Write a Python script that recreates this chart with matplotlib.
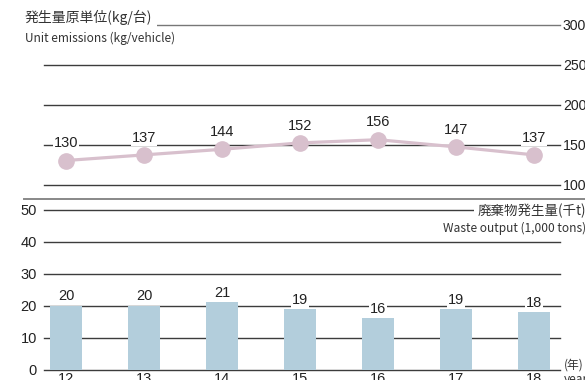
import matplotlib
matplotlib.use('Agg')
import matplotlib.pyplot as plt
from matplotlib.lines import Line2D

plt.rcParams['font.family'] = ['Liberation Sans', 'Noto Sans CJK JP']

# 年度と各系列
years = ['12', '13', '14', '15', '16', '17', '18']
unit_emissions = [130, 137, 144, 152, 156, 147, 137]   # kg/台
waste_output = [20, 20, 21, 19, 16, 19, 18]           # 千t
emis_ticks = [100, 150, 200, 250, 300]
waste_ticks = [0, 10, 20, 30, 40, 50]

W, H = 585, 380
fig = plt.figure(figsize=(W / 100, H / 100), dpi=100)

def box(l, t, r, b):
    return [l / W, 1 - b / H, (r - l) / W, (b - t) / H]

line_c = '#d8c0cd'
bar_c = '#b3cedc'
grid_c = '#3c3c3c'
txt_c = '#222222'
xs = list(range(len(years)))
xlim = (-0.282, 6.333)

# 上段: 発生量原単位
ax1 = fig.add_axes(box(44, 24.5, 560, 184.5))
ax1.set_xlim(*xlim)
ax1.set_ylim(100, 300)
for v in emis_ticks:
    ax1.axhline(v, color='#777777' if v == 300 else grid_c, lw=1, zorder=1,
                clip_on=False)
ax1.plot(xs, unit_emissions, color=line_c, lw=2.3, marker='o', ms=11,
         zorder=3, clip_on=False)
for x, v in zip(xs, unit_emissions):
    ax1.annotate(str(v), (x, v), xytext=(0, 12.5), textcoords='offset points',
                 ha='center', va='center', fontsize=10.5, color=txt_c,
                 bbox=dict(fc='white', ec='none', pad=0.8), zorder=4)
ax1.yaxis.tick_right()
ax1.set_yticks(emis_ticks)
ax1.tick_params(axis='y', length=0, pad=2, labelsize=10.2, labelcolor=txt_c)
ax1.set_xticks([])
for s in ax1.spines.values():
    s.set_visible(False)

# 下段: 廃棄物発生量
ax2 = fig.add_axes(box(44, 209.5, 560, 369.5))
ax2.set_xlim(*xlim)
ax2.set_ylim(0, 50)
for v in waste_ticks:
    ax2.axhline(v, color=grid_c, lw=1, zorder=1, clip_on=False)
ax2.bar(xs, waste_output, width=0.42, color=bar_c, zorder=2)
for x, v in zip(xs, waste_output):
    ax2.annotate(str(v), (x, v), xytext=(0, 6.5), textcoords='offset points',
                 ha='center', va='center', fontsize=10.5, color=txt_c,
                 bbox=dict(fc='white', ec='none', pad=0.6), zorder=4)
ax2.set_yticks(waste_ticks)
ax2.set_xticks(xs)
ax2.set_xticklabels(years)
ax2.tick_params(axis='y', length=0, pad=5, labelsize=10.5, labelcolor=txt_c)
ax2.tick_params(axis='x', length=0, pad=2, labelsize=10.5, labelcolor=txt_c)
for s in ax2.spines.values():
    s.set_visible(False)

# 区切り線
fig.add_artist(Line2D([24 / W, 1], [1 - 198.5 / H, 1 - 198.5 / H],
                      color='#888888', lw=1.4))

jp = ['Noto Sans CJK JP']
fig.text(25 / W, 1 - 17 / H, '発生量原単位(kg/台)', family=jp, fontsize=10,
         color='#333333', va='center', ha='left',
         bbox=dict(fc='white', ec='none', pad=3), zorder=5)
fig.text(25 / W, 1 - 38 / H, 'Unit emissions (kg/vehicle)', family=jp,
         fontsize=8.6, color='#333333', va='center', ha='left')
fig.text(478 / W, 1 - 211 / H, '廃棄物発生量(千t)', family=jp, fontsize=9.7,
         color='#333333', va='center', ha='left',
         bbox=dict(fc='white', ec='none', pad=2.5), zorder=5)
fig.text(443 / W, 1 - 228 / H, 'Waste output (1,000 tons)', family=jp,
         fontsize=8.6, color='#333333', va='center', ha='left')
fig.text(564 / W, 1 - 365 / H, '(年)', family=jp, fontsize=8.5,
         color='#333333', va='center', ha='left')
fig.text(564 / W, 1 - 379 / H, 'year', family=jp, fontsize=8.5,
         color='#333333', va='center', ha='left')

fig.savefig('out.png', dpi=100)
